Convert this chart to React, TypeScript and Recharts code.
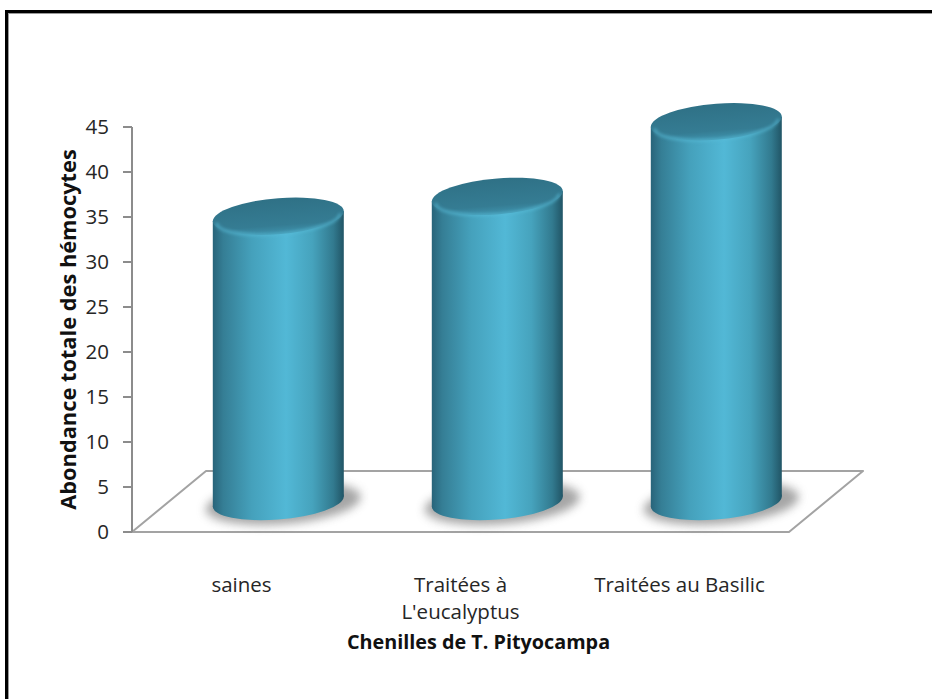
import { BarChart, Bar, XAxis, YAxis, ReferenceArea, Label } from "recharts";

// Abondance totale des hémocytes par lot de chenilles
const CATEGORIES = ["saines", "Traitées à\nL'eucalyptus", "Traitées au Basilic"];
const VALUES = [31.7, 33.9, 42.2];
const Y_TICKS = [0, 5, 10, 15, 20, 25, 30, 35, 40, 45];

const data = CATEGORIES.map((name, i) => ({ name, value: VALUES[i] }));

const FONT = "'Open Sans', Lato, sans-serif";
// oblique 3D depth of the floor (front edge -> back edge)
const DEPTH_X = 74;
const DEPTH_Y = 61;
const SKEW = -4.4;

function Floor(props: any) {
  const { x = 0, y = 0, width = 0, height = 0 } = props;
  const yf = y + height;
  const pts = [
    [x, yf],
    [x + width, yf],
    [x + width + DEPTH_X, yf - DEPTH_Y],
    [x + DEPTH_X, yf - DEPTH_Y],
  ];
  return (
    <polygon
      points={pts.map((p) => p.join(",")).join(" ")}
      fill="#fff"
      stroke="#a3a3a3"
      strokeWidth={2}
      strokeLinejoin="round"
    />
  );
}

function Cylinder(props: any) {
  const { x = 0, y = 0, width = 0, height = 0, index = 0 } = props;
  const cx = x + width / 2 + DEPTH_X / 2;
  const rx = width / 2;
  const ry = 18;
  const yt = y - DEPTH_Y / 2;
  const yb = y + height - DEPTH_Y / 2;
  const body = `cyl-body-${index}`;
  const top = `cyl-top-${index}`;
  const blur = `cyl-blur-${index}`;
  const soft = `cyl-soft-${index}`;
  return (
    <g transform={`translate(${cx} 0) skewY(${SKEW}) translate(${-cx} 0)`}>
      <defs>
        <linearGradient id={body} x1="0" y1="0" x2="1" y2="0">
          <stop offset="0%" stopColor="#28647a" />
          <stop offset="8%" stopColor="#357e95" />
          <stop offset="30%" stopColor="#45a1bc" />
          <stop offset="56%" stopColor="#52b8d6" />
          <stop offset="76%" stopColor="#46a3bd" />
          <stop offset="92%" stopColor="#327a8f" />
          <stop offset="100%" stopColor="#215566" />
        </linearGradient>
        <linearGradient id={top} x1="0" y1="0" x2="0" y2="1">
          <stop offset="0%" stopColor="#2f7186" />
          <stop offset="75%" stopColor="#357c93" />
          <stop offset="100%" stopColor="#3f93ad" />
        </linearGradient>
        <filter id={blur} x="-30%" y="-100%" width="160%" height="300%">
          <feGaussianBlur stdDeviation="5" />
        </filter>
        <filter id={soft} x="-10%" y="-50%" width="120%" height="200%">
          <feGaussianBlur stdDeviation="1.5" />
        </filter>
      </defs>
      <ellipse cx={cx + 5} cy={yb + 2} rx={rx + 12} ry={ry + 3} fill="#6a6a6a" opacity={0.6} filter={`url(#${blur})`} />
      <rect x={cx - rx} y={yt} width={width} height={yb - yt} fill={`url(#${body})`} />
      <ellipse cx={cx} cy={yb} rx={rx} ry={ry} fill={`url(#${body})`} />
      <ellipse cx={cx} cy={yt} rx={rx} ry={ry} fill={`url(#${top})`} />
      <path
        d={`M ${cx - rx + 4} ${yt + 2} A ${rx - 4} ${ry - 2} 0 0 0 ${cx + rx - 4} ${yt + 2}`}
        fill="none"
        stroke="#58bcd8"
        strokeWidth={3}
        opacity={0.6}
        filter={`url(#${soft})`}
      />
    </g>
  );
}

function CategoryTick(props: any) {
  const { x = 0, y = 0, payload } = props;
  const lines = String(payload.value).split("\n");
  return (
    <text x={x} y={y} textAnchor="middle" fontFamily={FONT} fontSize={20.5} fill="#262626">
      {lines.map((l, i) => (
        <tspan key={i} x={x} dy={i === 0 ? 52 : 27}>
          {l}
        </tspan>
      ))}
    </text>
  );
}

export default function App() {
  return (
    <div
      style={{
        position: "fixed",
        left: 0,
        top: 0,
        width: 932,
        height: 699,
        overflow: "hidden",
        background: "#fff",
      }}
    >
      <div
        style={{
          position: "absolute",
          left: 5,
          top: 10,
          width: 960,
          height: 740,
          border: "3px solid #000",
          boxShadow: "inset 1px 1px 0 #9a9a9a",
        }}
      />
      <div style={{ position: "absolute", left: 0, top: 0 }}>
        <BarChart
          width={932}
          height={699}
          data={data}
          barCategoryGap="20%"
          margin={{ top: 127, right: 143, bottom: 107, left: 30 }}
        >
          <XAxis
            dataKey="name"
            axisLine={false}
            tickLine={false}
            tick={<CategoryTick />}
            interval={0}
            height={60}
          >
            <Label
              value="Chenilles de T. Pityocampa"
              position="insideBottom"
              offset={-57}
              dx={18}
              style={{ fontFamily: FONT, fontSize: 19.8, fontWeight: 700, fill: "#111" }}
            />
          </XAxis>
          <YAxis
            domain={[0, 45]}
            ticks={Y_TICKS}
            interval={0}
            width={102}
            axisLine={{ stroke: "#8c8c8c", strokeWidth: 2 }}
            tickLine={{ stroke: "#8c8c8c", strokeWidth: 2 }}
            tickSize={9}
            tickMargin={14}
            tick={{ fontFamily: FONT, fontSize: 20.5, fill: "#262626" }}
          >
            <Label
              value="Abondance totale des hémocytes"
              angle={-90}
              position="insideLeft"
              offset={38}
              style={{ textAnchor: "middle", fontFamily: FONT, fontSize: 21.8, fontWeight: 700, fill: "#111" }}
            />
          </YAxis>
          <ReferenceArea y1={0} y2={5} ifOverflow="visible" shape={<Floor />} />
          <Bar dataKey="value" isAnimationActive={false} shape={<Cylinder />} />
        </BarChart>
      </div>
    </div>
  );
}
